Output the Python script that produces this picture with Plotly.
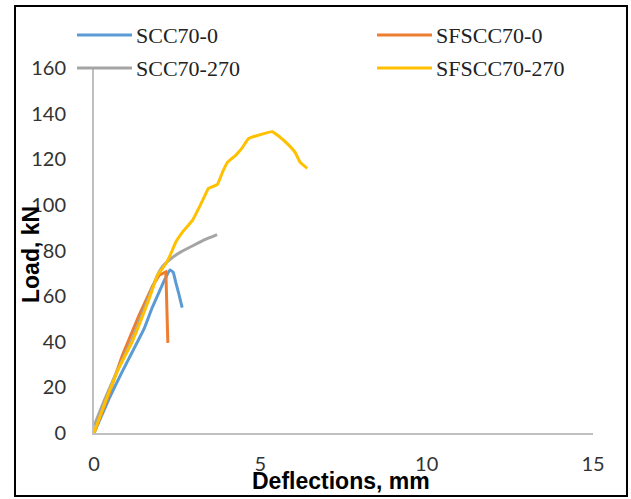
import plotly.graph_objects as go

# ---- data ----
scc0_x = [0, 0.45, 0.8, 1.15, 1.5, 1.75, 1.95, 2.1, 2.28, 2.38, 2.45, 2.55, 2.65]
scc0_y = [0, 15, 25.5, 35.5, 45.5, 55, 61.5, 66.5, 71.5, 70.5, 66.5, 61, 55]

sfscc0_x = [0, 0.4, 0.85, 1.35, 1.76, 1.96, 2.16, 2.2, 2.22]
sfscc0_y = [0, 15, 34, 51.5, 64.5, 69.2, 70.6, 55, 39.5]

scc270_x = [0, 0.3, 0.75, 1.15, 1.6, 1.9, 2.05, 2.25, 2.6, 3.0, 3.35, 3.7]
scc270_y = [3, 14, 29, 41, 58, 69, 72.8, 75.7, 79.3, 82.3, 84.9, 87]

sfscc270_x = [0, 0.35, 0.75, 1.15, 1.65, 1.91, 2.16, 2.31, 2.46, 2.70, 2.96, 3.2, 3.35,
              3.44, 3.71, 3.86, 4.01, 4.25, 4.46, 4.64, 5.0, 5.36, 5.54, 5.84, 6.05,
              6.20, 6.41]
sfscc270_y = [0, 14, 28.5, 40.1, 58.5, 69.2, 74.2, 78.6, 83.7, 88.8, 93.2, 100, 104.6,
              107.2, 109, 114.2, 118.6, 121.6, 125.1, 129, 130.8, 132.1, 130.3, 126.4,
              122.9, 118.6, 116]

series_names = ["SCC70-0", "SFSCC70-0", "SCC70-270", "SFSCC70-270"]
series_colors = ["#5B9BD5", "#ED7D31", "#A5A5A5", "#FFC000"]

x_ticks = [0, 5, 10, 15]
y_ticks = [0, 20, 40, 60, 80, 100, 120, 140, 160]

xs = [scc0_x, sfscc0_x, scc270_x, sfscc270_x]
ys = [scc0_y, sfscc0_y, scc270_y, sfscc270_y]

fig = go.Figure()
for name, color, x, y in zip(series_names, series_colors, xs, ys):
    shape = "linear" if name == "SFSCC70-0" else "spline"
    fig.add_trace(go.Scatter(
        x=x, y=y, mode="lines", name=name,
        line=dict(color=color, width=3, shape=shape, smoothing=0.3),
        showlegend=False,
    ))

# plot-area geometry (pixels) used to place the custom legend and frame
L, R, T, B = 94, 38, 68, 66
W, H = 631, 499
pw, ph = W - L - R, H - T - B


def px(xp):
    return (xp - L) / pw


def py(yp):
    return (H - B - yp) / ph


shapes = []
annotations = []
legend_pos = [(77, 35), (377, 35), (77, 68), (377, 68)]
for name, color, (lx, ly) in zip(series_names, series_colors, legend_pos):
    shapes.append(dict(type="line", xref="paper", yref="paper",
                       x0=px(lx), x1=px(lx + 55), y0=py(ly), y1=py(ly),
                       line=dict(color=color, width=3)))
    annotations.append(dict(text=name, xref="paper", yref="paper",
                            x=px(lx + 57), y=py(ly), xanchor="left", yanchor="middle",
                            showarrow=False,
                            font=dict(family="Liberation Serif", size=22, color="#222")))

# outer frame
shapes.append(dict(type="rect", xref="paper", yref="paper",
                   x0=px(15), x1=px(627), y0=py(496), y1=py(6),
                   line=dict(color="black", width=2), layer="above"))

# axis titles
annotations.append(dict(text="<b>Deflections, mm</b>", xref="paper", yref="paper",
                        x=px(341), y=py(481), xanchor="center", yanchor="middle",
                        showarrow=False,
                        font=dict(family="Liberation Sans", size=23, color="black")))
annotations.append(dict(text="<b>Load, kN</b>", xref="paper", yref="paper",
                        x=px(31), y=py(255), xanchor="center", yanchor="middle",
                        textangle=-90, showarrow=False,
                        font=dict(family="Liberation Sans", size=23, color="black")))

tick_font = dict(family="Lato", size=20, color="#333")

fig.update_layout(
    width=W, height=H,
    margin=dict(l=L, r=R, t=T, b=B, autoexpand=False),
    paper_bgcolor="white", plot_bgcolor="white",
    shapes=shapes, annotations=annotations,
    xaxis=dict(range=[0, 15], tickvals=x_ticks, ticktext=[str(v) for v in x_ticks],
               showgrid=False, zeroline=False, showline=True, linecolor="#BFBFBF",
               linewidth=2, ticks="", tickfont=tick_font, ticklabelstandoff=12,
               fixedrange=True),
    yaxis=dict(range=[0, 160], tickvals=y_ticks, ticktext=[str(v) for v in y_ticks],
               showgrid=False, zeroline=False, showline=True, linecolor="#BFBFBF",
               linewidth=2, ticks="", tickfont=tick_font, ticklabelstandoff=22,
               fixedrange=True),
)

fig.write_html(
    "out.html",
    config={"displayModeBar": False},
    post_script="document.body.style.margin='0';document.body.style.padding='0';"
                "document.documentElement.style.overflow='hidden';",
)
